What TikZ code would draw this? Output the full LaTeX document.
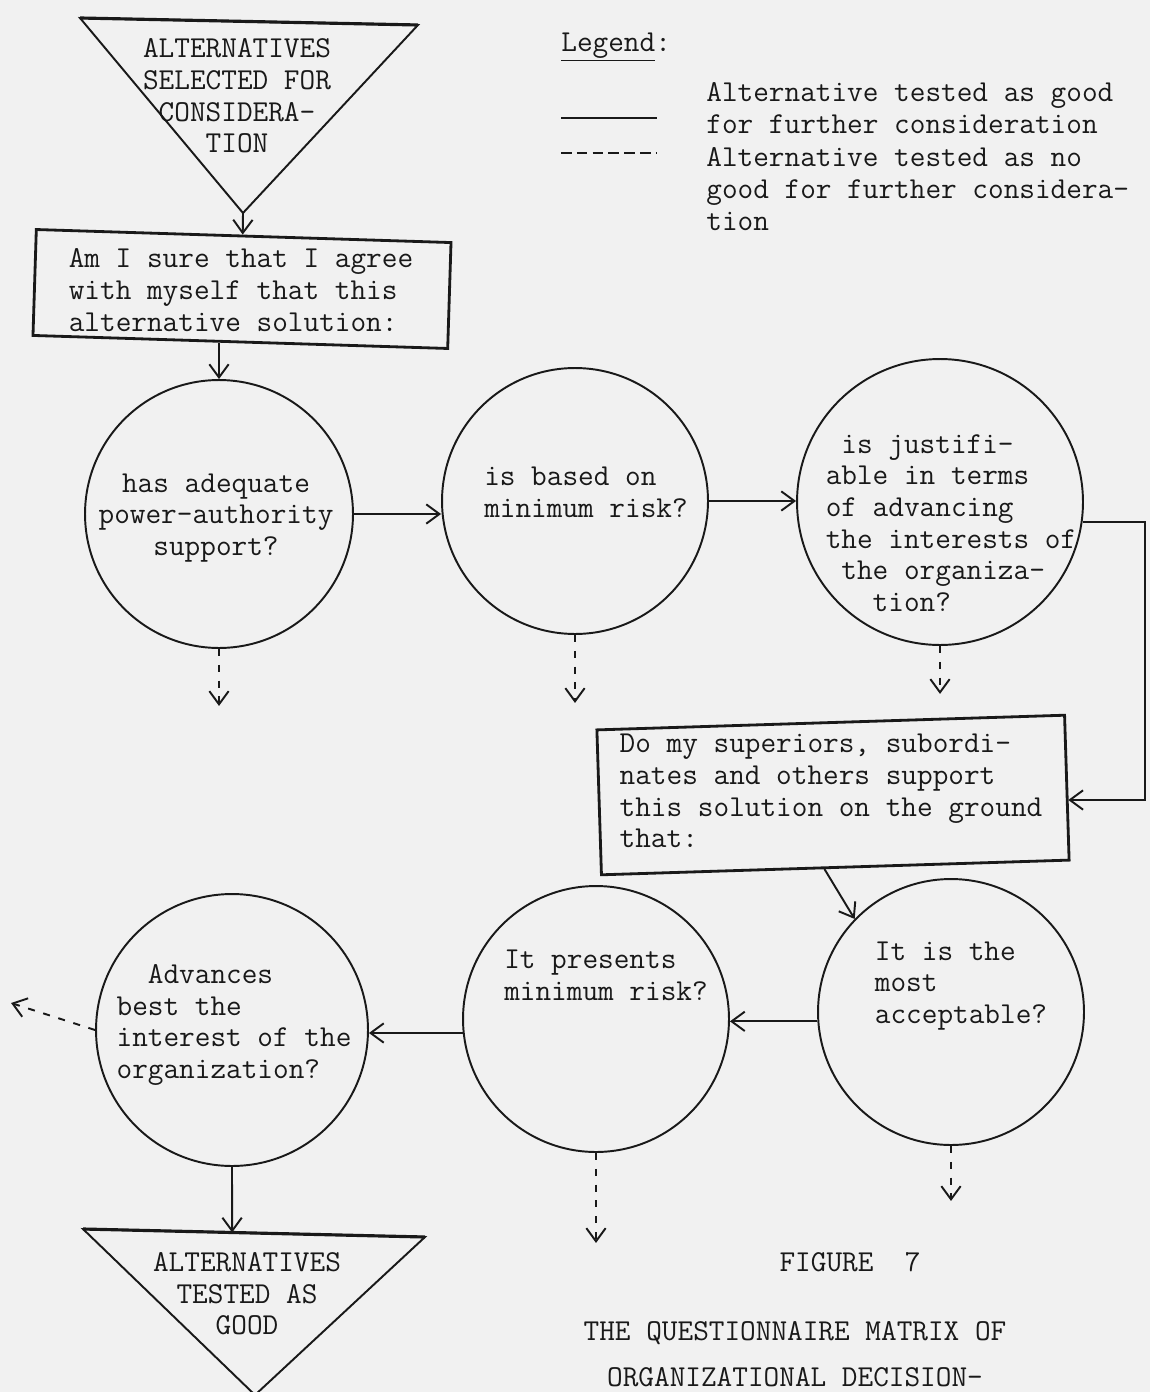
\documentclass[tikz,border=0pt]{standalone}
\usepackage{fontspec}
\usetikzlibrary{arrows.meta,positioning}
\newcommand{\typed}{\ttfamily\fontsize{17.3pt}{18pt}\selectfont}
\definecolor{paper}{gray}{0.945}
\definecolor{ink}{gray}{0.1}
\tikzset{
  good/.style={draw=ink,line width=1.1pt,-{Straight Barb[length=7.5pt,width=11pt]}},
  bad/.style={good,dash pattern=on 4pt off 5pt},
  question/.style={circle,draw=ink,line width=1.1pt,inner sep=0pt},
  askbox/.style={rectangle,draw=ink,line width=1.6pt,inner sep=0pt},
  words/.style={font=\typed,text=ink,inner sep=0pt},
}
\begin{document}
\begin{tikzpicture}[x=0.02cm,y=-0.02cm]
    \path [fill=paper] (0,0) rectangle (1150,1392);
    \useasboundingbox (0,0) rectangle (1150,1392);
    % triangles
    \path [draw=ink,line width=1.1pt] (80,18) -- (418,25) -- (243,213) coordinate (startTip) -- cycle;
    \path [draw=ink,line width=1.8pt] (80,18) -- (418,25);
    \node (start) at (237,96) [words,align=center] {ALTERNATIVES\\SELECTED FOR\\CONSIDERA-\\TION};
    \path [draw=ink,line width=1.1pt] (83,1229) -- coordinate[pos=0.436] (finIn) (425,1237) -- (255,1395) -- cycle;
    \path [draw=ink,line width=1.8pt] (83,1229) -- (425,1237);
    \node (finish) at (247,1294) [words,align=center] {ALTERNATIVES\\TESTED AS\\GOOD};
    % question boxes
    \node (ask) at (242,289) [askbox,rotate=-1.8,minimum width=8.3cm,minimum height=2.12cm] {};
    \node (askt) at (241,290) [words,align=left] {Am I sure that I agree\\with myself that this\\alternative solution:};
    \node (ground) at (833,795) [askbox,rotate=1.8,minimum width=9.36cm,minimum height=2.9cm] {};
    \node (groundt) at (831,791) [words,align=left] {Do my superiors, subordi-\\nates and others support\\this solution on the ground\\that:};
    % tests
    \node (q1) at (219,514) [question,minimum size=5.36cm] {};
    \node (q1t) at (216,518) [words,align=center] {has adequate\\power-authority\\support?};
    \node (q2) at (575,501) [question,minimum size=5.32cm] {};
    \node (q2t) at (586,492) [words,align=left] {is based on\\minimum risk?};
    \node (q3) at (940,502) [question,minimum size=5.72cm] {};
    \node (q3t) at (951,523) [words,align=left] {\phantom{x}is justifi-\\able in terms\\of advancing\\the interests of\\\phantom{x}the organiza-\\\phantom{xxx}tion?};
    \node (q4) at (232,1030) [question,minimum size=5.44cm] {};
    \node (q4t) at (234,1025) [words,align=left] {\phantom{xx}Advances\\best the\\interest of the\\organization?};
    \node (q5) at (596,1019) [question,minimum size=5.32cm] {};
    \node (q5t) at (606,975) [words,align=left] {It presents\\minimum risk?};
    \node (q6) at (951,1012) [question,minimum size=5.32cm] {};
    \node (q6t) at (961,986) [words,align=left] {It is the\\most\\acceptable?};
    % legend
    \node (legend) at (561,47) [words,anchor=west] {\underline{Legend}:};
    \path [draw=ink,line width=1.4pt] (561,118) -- (657,118);
    \path [draw=ink,line width=1.4pt,dash pattern=on 6pt off 3pt] (561,153) -- (657,153);
    \node (goodTxt) at (706,108) [words,anchor=west,align=left] {Alternative tested as good\\for further consideration};
    \node (badTxt) at (706,189) [words,anchor=west,align=left] {Alternative tested as no\\good for further considera-\\tion};
    % caption
    \node (fig) at (850,1262) [words] {FIGURE\ \ 7};
    \node (title) at (795,1333) [words] {THE QUESTIONNAIRE MATRIX OF};
    \node (title2) at (795,1377) [words] {ORGANIZATIONAL DECISION-};
    % connectors
    \path [good] (startTip) -- (ask);
    \path [good] (ask.south -| q1.north) -- (q1.north);
    \path [good] (q1.east) -- (q1.east -| q2.west);
    \path [good] (q2.east) -- (q2.east -| q3.west);
    \coordinate (turn) at (1145,800);
    \path [good] (q3.-8) -| (turn) -- (turn -| ground.east);
    \path [good] ([xshift=-0.22cm]ground.south) -- (q6.136);
    \path [good] (q6.184) -- (q6.184 -| q5.east);
    \path [good] (q5.186) -- (q5.186 -| q4.east);
    \path [good] (q4.south) -- (finIn);
    \path [bad] (q1.south) -- ++(0,57) coordinate (drop1);
    \path [bad] (q2.south) -- ++(0,68) coordinate (drop2);
    \path [bad] (q3.south) -- ++(0,48) coordinate (drop3);
    \path [bad] (q4.west) -- ++(-84,-27) coordinate (drop4);
    \path [bad] (q5.south) -- ++(0,90) coordinate (drop5);
    \path [bad] (q6.south) -- ++(0,55) coordinate (drop6);
\end{tikzpicture}
\end{document}
